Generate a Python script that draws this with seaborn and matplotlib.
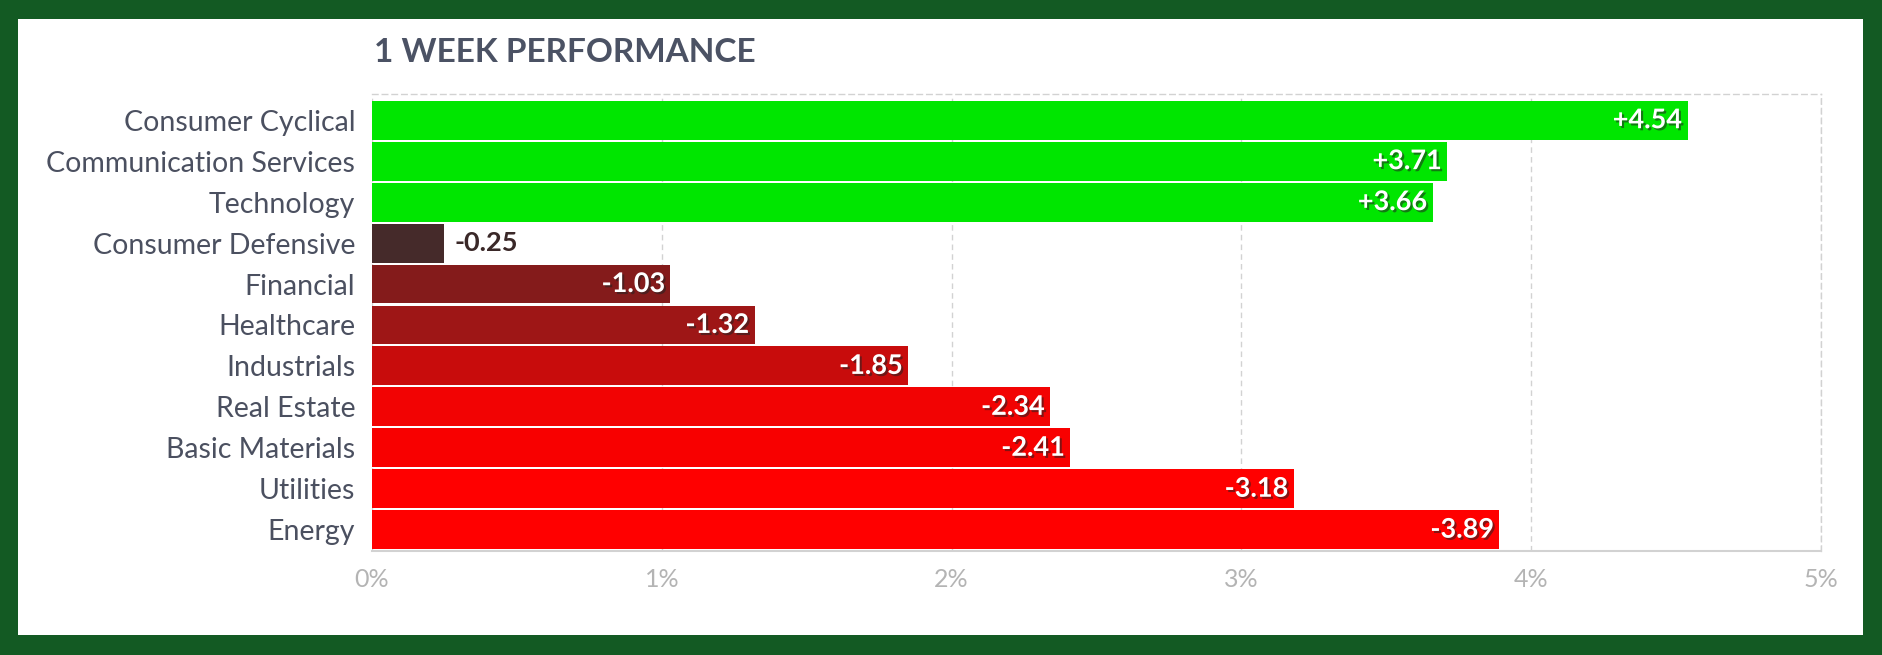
import matplotlib
matplotlib.use('Agg')
import matplotlib.pyplot as plt
import matplotlib.patheffects as pe
from matplotlib.patches import Rectangle
import numpy as np
import seaborn as sns

# ── data ──────────────────────────────────────────────────────────────
sectors = ['Consumer Cyclical', 'Communication Services', 'Technology',
           'Consumer Defensive', 'Financial', 'Healthcare', 'Industrials',
           'Real Estate', 'Basic Materials', 'Utilities', 'Energy']
changes = [4.54, 3.71, 3.66, -0.25, -1.03, -1.32, -1.85, -2.34, -2.41, -3.18, -3.89]
bar_colors = ['#00e600', '#00e600', '#00e600', '#452a2a', '#841b1b', '#9e1616',
              '#c80c0c', '#f20303', '#f80000', '#ff0000', '#ff0000']
x_ticks = [0, 1, 2, 3, 4, 5]
x_tick_labels = ['0%', '1%', '2%', '3%', '4%', '5%']
title = '1 WEEK PERFORMANCE'

sns.set_style('white')
plt.rcParams['font.family'] = ['Lato', 'DejaVu Sans']

fig = plt.figure(figsize=(18.82, 6.55), dpi=100)
fig.patch.set_facecolor('#135a23')
# white card inside the green frame
fig.add_artist(Rectangle((18 / 1882, 20 / 655), (1863 - 18) / 1882, (636 - 20) / 655,
                         transform=fig.transFigure, facecolor='white',
                         edgecolor='none', zorder=0))

ax = fig.add_axes([372 / 1882, 1 - 551 / 655, (1821 - 372) / 1882, (551 - 94) / 655])
ax.set_facecolor('white')

sizes = np.abs(changes)
sns.barplot(x=sizes, y=sectors, hue=sectors, palette=bar_colors, legend=False,
            orient='h', width=0.95, linewidth=0, saturation=1, ax=ax, zorder=3)

ax.set_xlim(0, 5)
ax.set_ylim(10.52, -0.64)
ax.set_xticks(x_ticks)
ax.set_xticklabels(x_tick_labels)
ax.set_xlabel('')
ax.set_ylabel('')
ax.tick_params(axis='x', colors='#b4b4b4', labelsize=18, length=0, pad=12)
ax.tick_params(axis='y', colors='#4b5060', labelsize=20.5, length=0, pad=12)
for lbl in ax.get_yticklabels():
    lbl.set_verticalalignment('center_baseline')

ax.grid(axis='x', color='#d2d2d2', linestyle=(0, (4, 3)), linewidth=1, zorder=0)
for side in ['top', 'right']:
    ax.spines[side].set_visible(True)
    ax.spines[side].set_color('#d2d2d2')
    ax.spines[side].set_linestyle((0, (4, 3)))
    ax.spines[side].set_linewidth(1)
ax.spines['bottom'].set_color('#d2d2d2')
ax.spines['bottom'].set_linestyle((0, (1, 1)))
ax.spines['bottom'].set_linewidth(1.5)
ax.spines['left'].set_visible(False)

shadow = [pe.SimplePatchShadow(offset=(1.5, -1.5), shadow_rgbFace='#222222', alpha=0.55),
          pe.Normal()]
for i, (val, size) in enumerate(zip(changes, sizes)):
    label = f'{val:+.2f}'
    if size < 0.5:
        ax.annotate(label, (size, i), xytext=(7, 0), textcoords='offset points',
                    ha='left', va='center', fontsize=19.5, fontweight='bold',
                    color='#3a2828', zorder=5)
    else:
        ax.annotate(label, (size, i), xytext=(-4, 0), textcoords='offset points',
                    ha='right', va='center', fontsize=19.5, fontweight='bold',
                    color='white', path_effects=shadow, zorder=5)

fig.text(374 / 1882, 1 - 52 / 655, title, fontsize=24, fontweight='bold',
         color='#4b5264', ha='left', va='center')

fig.savefig('out.png', dpi=100, facecolor=fig.get_facecolor())
plt.close(fig)
